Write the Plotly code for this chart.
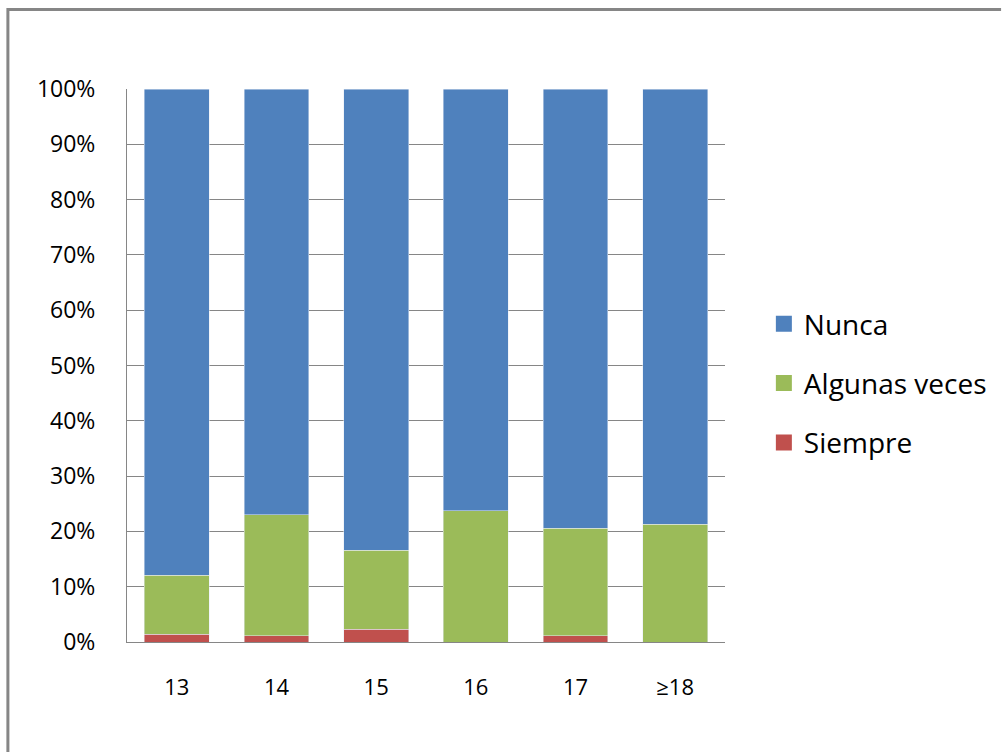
import plotly.graph_objects as go

# Age groups and the share of answers in each group (percent)
edades = ["13", "14", "15", "16", "17", "≥18"]
siempre = [1.4, 1.1, 2.3, 0.0, 1.1, 0.0]
algunas_veces = [10.7, 21.9, 14.3, 23.7, 19.5, 21.3]
nunca = [87.9, 77.0, 83.4, 76.3, 79.4, 78.7]

series = [
    ("Siempre", siempre, "#C0504D"),
    ("Algunas veces", algunas_veces, "#9BBB59"),
    ("Nunca", nunca, "#4F81BD"),
]

W, H = 1004, 752
L, R, T, B = 127, 277, 89, 110
PW, PH = W - L - R, H - T - B

def px(x):
    return (x - L) / PW

def py(y):
    return (H - B - y) / PH

fig = go.Figure()
for name, vals, color in series:
    fig.add_trace(go.Bar(x=edades, y=vals, name=name, marker_color=color,
                         showlegend=False))
# legend entries with larger square swatches, top series first
for i, (name, vals, color) in enumerate(reversed(series)):
    fig.add_trace(go.Scatter(x=[None], y=[None], mode="markers", name=name,
                             legendgroup=str(i),
                             marker=dict(symbol="square", size=16, color=color)))

font = "Open Sans"
fig.update_layout(
    width=W, height=H,
    margin=dict(l=L, r=R, t=T, b=B),
    paper_bgcolor="white", plot_bgcolor="white",
    barmode="stack", bargap=0.35,
    font=dict(family=font, color="black"),
    legend=dict(
        x=px(766), y=py(299), xanchor="left", yanchor="top",
        traceorder="grouped", tracegroupgap=20,
        font=dict(size=28, family=font),
        itemwidth=30, itemsizing="trace",
    ),
    xaxis=dict(
        showline=True, linecolor="#868686", linewidth=1,
        ticks="", tickfont=dict(size=22), showgrid=False,
        ticklabelstandoff=26,
    ),
    yaxis=dict(
        range=[0, 100], tickvals=list(range(0, 101, 10)),
        ticktext=[f"{v}%" for v in range(0, 101, 10)],
        showgrid=True, gridcolor="#868686", gridwidth=1,
        showline=True, linecolor="#868686", linewidth=1,
        ticks="", tickfont=dict(size=23), ticklabelstandoff=26,
        zeroline=False,
    ),
    shapes=[
        dict(type="path", xref="paper", yref="paper",
             path=f"M {px(7.5)} {py(752)} L {px(7.5)} {py(9.5)} L {px(1004)} {py(9.5)}",
             line=dict(color="#868686", width=3)),
    ],
)

fig.write_html("out.html")
